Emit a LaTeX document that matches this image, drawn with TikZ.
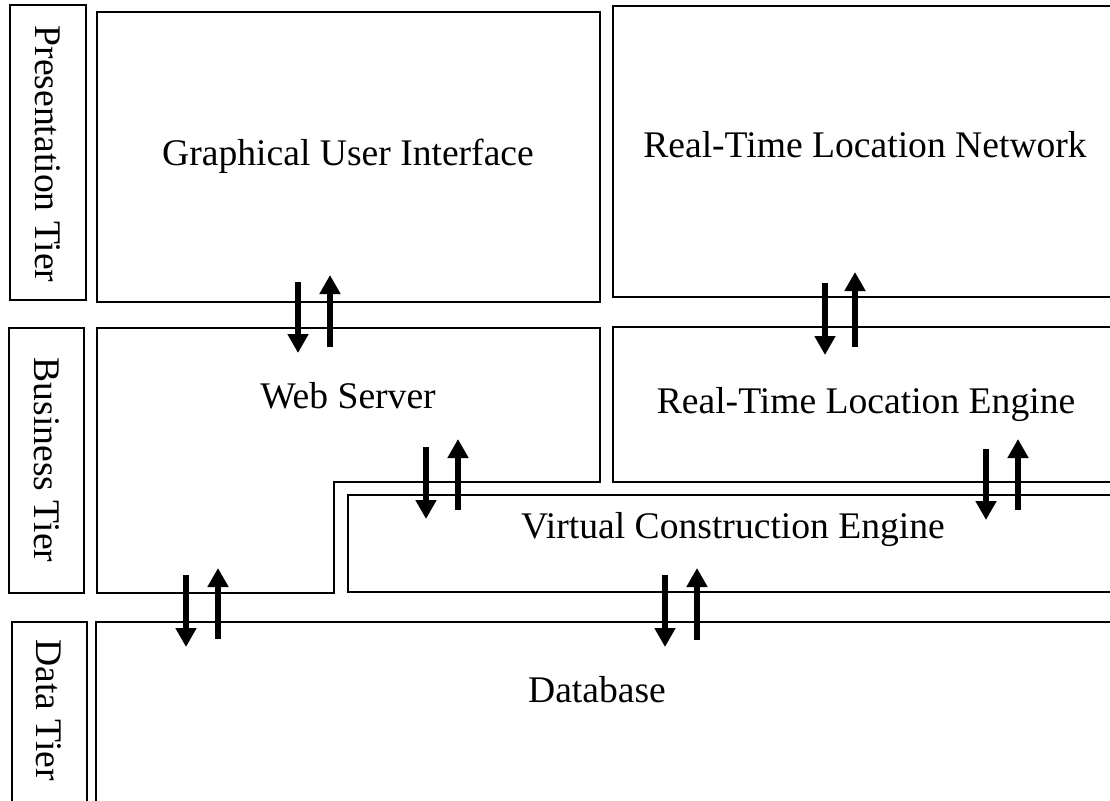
\documentclass[tikz,border=0pt]{standalone}
\usepackage{fontspec}
\setmainfont{Liberation Serif}
\usetikzlibrary{arrows.meta}

\begin{document}
\begin{tikzpicture}[x=1pt,y=-1pt,
  box/.style={draw=black,line width=1.6pt},
  lbl/.style={font=\fontsize{37.6}{45}\selectfont,inner sep=0pt},
  tierlbl/.style={lbl,rotate=-90},
  flow/.style={line width=6pt,-{Triangle[width=20pt,length=19pt]}}
]
\useasboundingbox (0,0) rectangle (1110,800);
\fill[white] (0,0) rectangle (1110,800);
\clip (0,0) rectangle (1110,800);

% tier labels
\draw[box] (10,5) rectangle (86,300);
\node[tierlbl] (ptier) at (48,154) {Presentation Tier};
\draw[box] (9,328) rectangle (84,593);
\node[tierlbl] (btier) at (47,460) {Business Tier};
\draw[box] (12,622) rectangle (87,815);
\node[tierlbl] (dtier) at (49,710) {Data Tier};

% presentation tier
\draw[box] (97,12) rectangle (600,302);
\node[lbl,anchor=base] (gui) at (348,165) {Graphical User Interface};
\draw[box] (613,6) rectangle (1125,297);
\node[lbl,anchor=base] (rtln) at (865,157) {Real-Time Location Network};

% business tier
\draw[box] (97,328) -- (600,328) -- (600,482) -- (334,482) -- (334,593) -- (97,593) -- cycle;
\node[lbl,anchor=base] (web) at (348,408) {Web Server};
\draw[box] (613,327) rectangle (1125,482);
\node[lbl,anchor=base] (rtle) at (866,413) {Real-Time Location Engine};
\draw[box] (348,495) rectangle (1125,592);
\node[lbl,anchor=base] (vce) at (733,538) {Virtual Construction Engine};

% data tier
\draw[box] (96,622) rectangle (1125,815);
\node[lbl,anchor=base] (db) at (597,702) {Database};

% request / response arrow ends
\coordinate (guiOut) at (298,282);  \coordinate (webIn)  at (298,353);
\coordinate (webOut) at (330,347);  \coordinate (guiIn)  at (330,275);
\coordinate (rtlnOut) at (825,283); \coordinate (rtleIn) at (825,355);
\coordinate (rtleOut) at (855,347); \coordinate (rtlnIn) at (855,272);
\coordinate (webOutB) at (426,447); \coordinate (vceInA) at (426,519);
\coordinate (vceOutA) at (458,510); \coordinate (webInB) at (458,439);
\coordinate (rtleOutB) at (986,449); \coordinate (vceInB) at (986,520);
\coordinate (vceOutB) at (1018,510); \coordinate (rtleInB) at (1018,439);
\coordinate (webOutC) at (186,575); \coordinate (dbInA) at (186,647);
\coordinate (dbOutA) at (218,639);  \coordinate (webInC) at (218,568);
\coordinate (vceOutC) at (665,575); \coordinate (dbInB) at (665,647);
\coordinate (dbOutB) at (697,640);  \coordinate (vceInC) at (697,568);

\draw[flow] (guiOut) -- (webIn);
\draw[flow] (webOut) -- (guiIn);
\draw[flow] (rtlnOut) -- (rtleIn);
\draw[flow] (rtleOut) -- (rtlnIn);
\draw[flow] (webOutB) -- (vceInA);
\draw[flow] (vceOutA) -- (webInB);
\draw[flow] (rtleOutB) -- (vceInB);
\draw[flow] (vceOutB) -- (rtleInB);
\draw[flow] (webOutC) -- (dbInA);
\draw[flow] (dbOutA) -- (webInC);
\draw[flow] (vceOutC) -- (dbInB);
\draw[flow] (dbOutB) -- (vceInC);
\end{tikzpicture}
\end{document}
